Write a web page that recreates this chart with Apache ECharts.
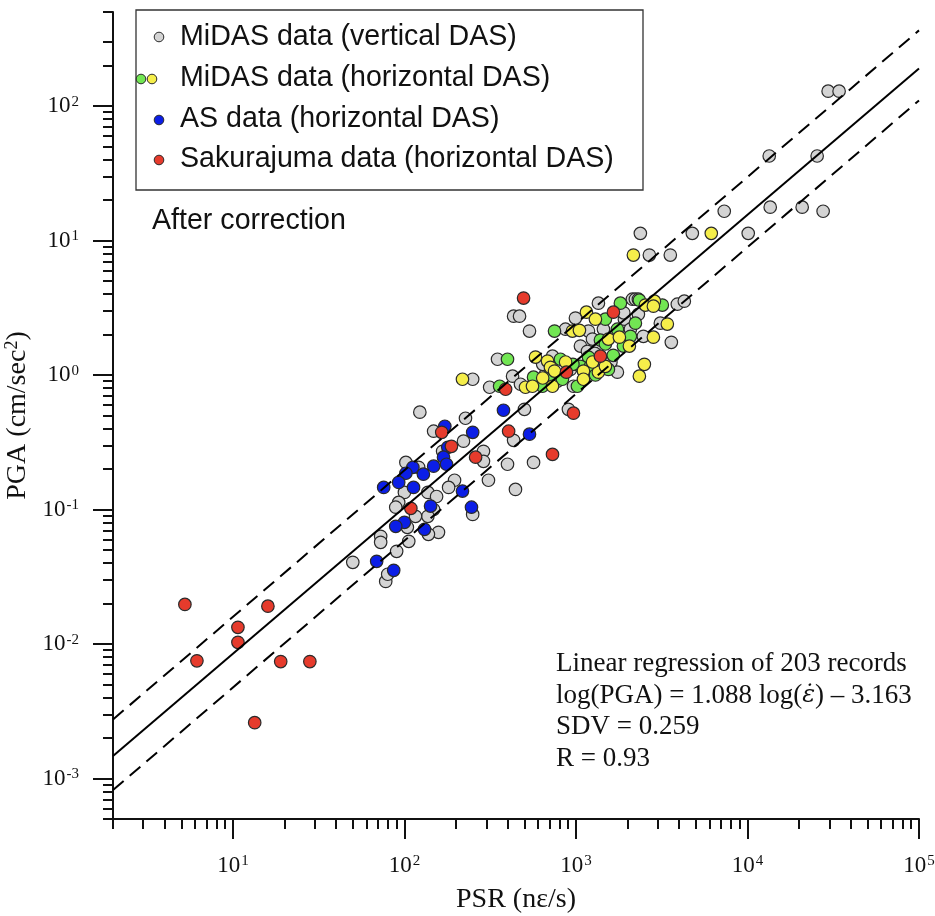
<!DOCTYPE html>
<html><head><meta charset="utf-8">
<script src="https://cdn.jsdelivr.net/npm/echarts@6/dist/echarts.min.js"></script>
<style>html,body{margin:0;padding:0;background:#fff}#c{width:935px;height:916px}</style>
</head><body><div id="c"></div>
<script>
// ---- data: [PSR (nε/s), PGA (cm/s²)] ----
const midasVertical = [
 [123,0.529],[227,0.477],[148,0.382],[221,0.322],[433,0.327],[501,0.556],[289,0.271],[289,0.228],[167,0.271],
 [399,0.217],[566,0.224],[102,0.224],[121,0.206],[309,0.165],[196,0.165],[181,0.146],[444,0.141],[137,0.134],
 [154,0.125],[100,0.134],[92.6,0.113],[89,0.104],[148,0.1],[137,0.089],[116,0.089],[250,0.092],[104,0.0737],
 [158,0.0677],[138,0.0654],[72.7,0.0632],[72.7,0.057],[106,0.058],[90.1,0.0489],[50,0.0405],[77.8,0.0292],[79.9,0.033],
 [250,0.93],[314,0.811],[349,1.31],[433,2.74],[469,2.74],[536,2.12],[427,0.98],
 [1352,3.42],[2133,3.66],[2221,3.66],[2312,3.66],[3899,3.36],[4283,3.54],[993,2.65],[1916,2.6],[2312,2.83],
 [869,2.19],[1183,2.12],[1446,2.19],[2077,2.19],[1248,1.85],[2472,1.94],[3105,2.43],[3598,1.75],[1062,1.64],
 [1167,1.5],[730,1.38],[1744,1.05],[664,1.01],[929,1.1],[967,0.825],[475,0.854],[904,0.556],
 [29530,129],[34210,129],[13390,42.5],[25480,42.5],[7321,16.5],[13570,17.7],[20840,17.7],[27610,16.5],
 [2374,11.3],[4769,11.3],[10100,11.3],[2679,7.79],[3549,7.79],
 [640,1.2],[1290,1.45],[1600,1.25],[780,0.9],[1900,2.9]
];
const midasHorizontalGreen = [
 [359,0.825],[750,2.12],[399,1.31],[566,0.963],[638,0.825],[1816,3.42],[2343,3.6],[3189,3.31],[1485,2.6],
 [2221,2.43],[1744,2.19],[1389,1.82],[1485,1.7],[1891,1.64],[2077,1.94],[812,1.31],[1183,1.36],[1062,1.16],
 [1215,1.16],[1546,1.1],[834,0.93],[1020,0.825],
 [700,1.0],[1300,1.0],[960,1.2],[1650,1.4]
];
const midasHorizontalYellow = [
 [218,0.93],[581,1.36],[508,0.811],[558,0.825],[683,1.27],[710,1.14],[750,1.07],[730,0.825],[2540,3.31],
 [2866,3.54],[2828,3.25],[1151,2.93],[1299,2.6],[954,2.12],[1048,2.15],[1546,1.85],[1792,1.91],[2049,1.64],
 [2828,1.91],[3410,2.39],[1106,1.07],[1352,1.05],[1485,1.16],[2505,1.2],[2343,0.98],[1106,0.93],[6152,11.3],[2162,7.79],
 [870,1.25],[1250,1.25],[640,0.95]
];
const asHorizontal = [
 [378,0.547],[172,0.416],[250,0.375],[536,0.363],[179,0.29],[169,0.245],[176,0.217],[148,0.21],[112,0.206],
 [102,0.186],[129,0.183],[92.6,0.159],[75.7,0.146],[113,0.146],[218,0.137],[142,0.106],[246,0.104],[100,0.0803],
 [89,0.075],[131,0.0712],[68.9,0.0412],[86.6,0.0353]
];
const sakurajimaHorizontal = [
 [5.25,0.0197],[16.0,0.0191],[10.7,0.0133],[10.7,0.0103],[6.17,0.0075],[19.0,0.0074],[28.1,0.0074],[13.4,0.0026],
 [495,3.73],[1654,2.93],[1389,1.38],[880,1.05],[389,0.784],[967,0.52],[405,0.382],[165,0.375],[188,0.295],
 [260,0.245],[730,0.257],[109,0.102]
];
// regression line and band, endpoints
const regressionLine = [[2,0.00147],[100000,190]];
const upperBand = [[2,0.00275],[100000,365]];
const lowerBand = [[2,0.00082],[100000,110]];

// axis ticks / labels
const xRange = [2, 100000];
const yRange = [0.0005, 500];
const xMajor = [10,100,1000,10000,100000];
const yMajor = [0.001,0.01,0.1,1,10,100];
const xMinor = [2,3,4,5,6,7,8,9,20,30,40,50,60,70,80,90,200,300,400,500,600,700,800,900,
  2000,3000,4000,5000,6000,7000,8000,9000,20000,30000,40000,50000,60000,70000,80000,90000];
const yMinor = [0.0005,0.0006,0.0007,0.0008,0.0009,0.002,0.003,0.004,0.005,0.006,0.007,0.008,0.009,
  0.02,0.03,0.04,0.05,0.06,0.07,0.08,0.09,0.2,0.3,0.4,0.5,0.6,0.7,0.8,0.9,2,3,4,5,6,7,8,9,
  20,30,40,50,60,70,80,90,200,300,500];

const legendRows = [
  'MiDAS data (vertical DAS)','MiDAS data (horizontal DAS)','AS data (horizontal DAS)','Sakurajuma data (horizontal DAS)'
];
const noteLines = ['Linear regression of 203 records','log(PGA) = 1.088 log({e|\u03B5\u0307}) \u2013 3.163','SDV = 0.259','R = 0.93'];

const SERIF = '"Liberation Serif","Times New Roman",serif';
const SANS = '"Liberation Sans",Arial,sans-serif';
const C = { gray:'#d4d4d4', green:'#72e653', yellow:'#f5ee4a', blue:'#0b1ee6', red:'#e63b2c', edge:'#2a2a2a' };

function powLabel(v){
  const e = Math.round(Math.log10(v));
  return '{b|10}{s|' + (e < 0 ? '-' : '') + Math.abs(e) + '}';
}
const labRich = {
  b:{fontFamily:SERIF,fontSize:23,color:'#111'},
  s:{fontFamily:SERIF,fontSize:15,color:'#111',verticalAlign:'top',padding:[0,0,0,1]}
};
const gridRect = {left:113,right:16,top:12,bottom:97,outerBoundsMode:'none'};
const axLine = {show:true,lineStyle:{color:'#111',width:2}};

const scatter = (name,data,color,z) => ({
  name, type:'scatter', data, symbolSize:12.5, z,
  itemStyle:{color, borderColor:C.edge, borderWidth:1.2, opacity:1}
});
const line = (data,dashed) => ({
  type:'line', data, symbol:'none', z:10, silent:true,
  lineStyle:{color:'#000',width:2,type:dashed?[14,8]:'solid'}
});
const txt = (x,y,text,font,size,extra) => ({type:'text',z:101,x,y,
  style:Object.assign({text,fontFamily:font,fontSize:size,fill:'#111',verticalAlign:'middle'},extra||{})});

const chart = echarts.init(document.getElementById('c'), null, {renderer:'canvas'});
chart.setOption({
  animation:false,
  backgroundColor:'#fff',
  grid:[Object.assign({},gridRect), Object.assign({},gridRect)],
  xAxis:[
    {type:'log',logBase:10,gridIndex:0,min:xRange[0],max:xRange[1],position:'bottom',
     axisLine:axLine,splitLine:{show:false},
     axisTick:{show:true,customValues:xMajor,length:20,lineStyle:{color:'#111',width:2}},
     axisLabel:{show:true,customValues:xMajor,margin:35,formatter:powLabel,rich:labRich},
     name:'PSR (n\u03B5/s)',nameLocation:'middle',nameGap:67,
     nameTextStyle:{fontFamily:SERIF,fontSize:28,color:'#111'}},
    {type:'log',logBase:10,gridIndex:1,min:xRange[0],max:xRange[1],position:'bottom',
     axisLine:{show:false},splitLine:{show:false},
     axisTick:{show:true,customValues:xMinor,length:10,lineStyle:{color:'#111',width:2}},
     axisLabel:{show:false}}
  ],
  yAxis:[
    {type:'log',logBase:10,gridIndex:0,min:yRange[0],max:yRange[1],position:'left',
     axisLine:axLine,splitLine:{show:false},
     axisTick:{show:true,customValues:yMajor,length:20,lineStyle:{color:'#111',width:2}},
     axisLabel:{show:true,customValues:yMajor,margin:34,formatter:powLabel,rich:labRich},
     name:'PGA (cm/sec{s|2})',nameLocation:'middle',nameGap:72,nameRotate:90,
     nameTextStyle:{fontFamily:SERIF,fontSize:28,color:'#111',
       rich:{s:{fontFamily:SERIF,fontSize:18,color:'#111',verticalAlign:'top'}}}},
    {type:'log',logBase:10,gridIndex:1,min:yRange[0],max:yRange[1],position:'left',
     axisLine:{show:false},splitLine:{show:false},
     axisTick:{show:true,customValues:yMinor,length:10,lineStyle:{color:'#111',width:2}},
     axisLabel:{show:false}}
  ],
  series:[
    scatter(legendRows[0], midasVertical, C.gray, 2),
    scatter(legendRows[1], midasHorizontalGreen, C.green, 3),
    scatter(legendRows[1], midasHorizontalYellow, C.yellow, 4),
    scatter(legendRows[2], asHorizontal, C.blue, 5),
    scatter(legendRows[3], sakurajimaHorizontal, C.red, 6),
    line(regressionLine,false),
    line(upperBand,true),
    line(lowerBand,true)
  ],
  graphic:[
    {type:'rect',z:100,shape:{x:136,y:10,width:507,height:180},style:{fill:'#fff',stroke:'#333',lineWidth:1.3}},
    {type:'circle',z:101,shape:{cx:159,cy:37,r:4.8},style:{fill:C.gray,stroke:C.edge,lineWidth:1}},
    {type:'circle',z:101,shape:{cx:141,cy:79,r:4.8},style:{fill:C.green,stroke:C.edge,lineWidth:1}},
    {type:'circle',z:101,shape:{cx:152,cy:79,r:4.8},style:{fill:C.yellow,stroke:C.edge,lineWidth:1}},
    {type:'circle',z:101,shape:{cx:159,cy:120,r:4.8},style:{fill:C.blue,stroke:C.edge,lineWidth:1}},
    {type:'circle',z:101,shape:{cx:159,cy:160,r:4.8},style:{fill:C.red,stroke:C.edge,lineWidth:1}},
    txt(180,37,legendRows[0],SANS,28.6),
    txt(180,78,legendRows[1],SANS,28.6),
    txt(180,119,legendRows[2],SANS,28.6),
    txt(180,159,legendRows[3],SANS,28.6),
    txt(152,221,'After correction',SANS,28.6),
    txt(556,664,noteLines[0],SERIF,27),
    txt(556,696,noteLines[1],SERIF,27,{rich:{e:{fontFamily:'"DejaVu Serif"',fontSize:24,fontStyle:'italic',fill:'#111'}}}),
    txt(556,727,noteLines[2],SERIF,27),
    txt(556,759,noteLines[3],SERIF,27)
  ]
});
</script></body></html>
